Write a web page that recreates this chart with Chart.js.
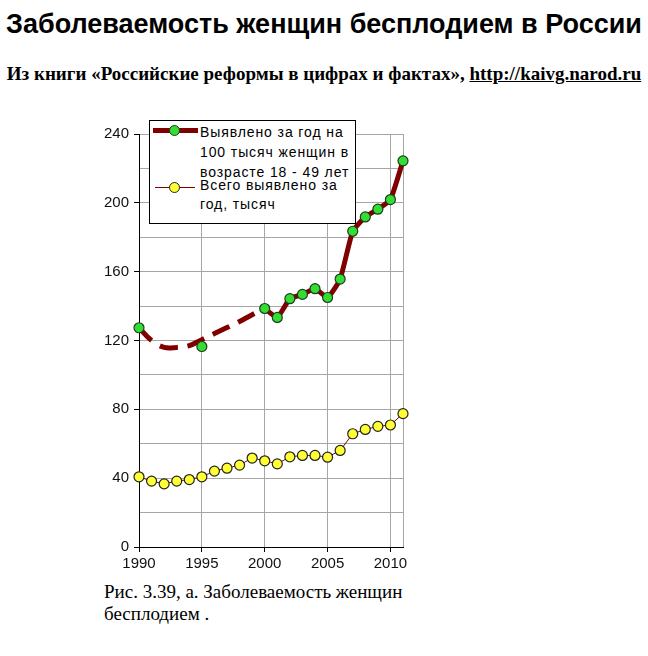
<!DOCTYPE html>
<html>
<head>
<meta charset="utf-8">
<script src="https://cdn.jsdelivr.net/npm/chart.js@4"></script>
<style>
  body { margin: 0; width: 648px; height: 656px; background: #fff; position: relative; overflow: hidden; }
  .title { position: absolute; left: 0; width: 648px; top: 9px; text-align: center; font: bold 27px "Liberation Sans", Arial, sans-serif; color: #000; }
  .subtitle { position: absolute; left: 0; width: 648px; top: 63px; text-align: center; font: bold 19px "Liberation Serif", "Times New Roman", serif; color: #000; }
  .subtitle a { color: #000; text-decoration: underline; }
  #wrap { position: absolute; left: 90px; top: 120px; width: 325px; height: 460px; }
  .legend { position: absolute; left: 149px; top: 120px; width: 205px; height: 102px; border: 1px solid #000; background: #fff; }
  .legend .txt { position: absolute; left: 50px; font: 14px "Liberation Sans", Arial, sans-serif; letter-spacing: 0.9px; line-height: 20px; color: #000; white-space: nowrap; }
  .legend .ln { position: absolute; background: #800000; }
  .legend .dot { position: absolute; width: 9px; height: 9px; border-radius: 50%; border: 1px solid #1d3d1d; }
  .caption { position: absolute; left: 104px; top: 581px; font: 19px "Liberation Serif", "Times New Roman", serif; line-height: 22px; color: #000; }
</style>
</head>
<body>
<div class="title">Заболеваемость женщин бесплодием в России</div>
<div class="subtitle">Из книги «Российские реформы в цифрах и фактах», <a>http://kaivg.narod.ru</a></div>
<div id="wrap"><canvas id="chart"></canvas></div>
<div class="legend">
  <div class="ln" style="left:3px; top:7px; width:45px; height:5px;"></div>
  <div class="dot" style="left:19px; top:4px; background:#33dd33;"></div>
  <div class="txt" style="top:1px;">Выявлено за год на<br>100 тысяч женщин в<br>возрасте 18 - 49 лет</div>
  <div class="ln" style="left:5px; top:66px; width:40px; height:1px;"></div>
  <div class="dot" style="left:19px; top:61px; background:#ffff33; border-color:#222;"></div>
  <div class="txt" style="top:55px; line-height:19px;">Всего выявлено за<br>год, тысяч</div>
</div>
<div class="caption">Рис. 3.39, а. Заболеваемость женщин<br>бесплодием .</div>

<script>
// Years on the x axis
const years = [];
for (let y = 1990; y <= 2011; y++) years.push(String(y));

// Detected per 100 thousand women aged 18-49 (known years only)
const ratePer100k = [127.4, null, null, null, null, 116.5, null, null, null, null,
  138.6, 133.4, 144.3, 146.8, 150.1, 145.0, 155.7, 183.5, 191.8, 196.3, 201.9, 224.4];

// Dashed estimate between the known years 1990-2000
const rateEstimate = [127.4, 120.0, 116.0, 116.0, 117.0, 120.5, 124.0, 127.5, 131.0, 135.0,
  138.6, null, null, null, null, null, null, null, null, null, null, null];

// Total detected per year, thousands
const totalThousands = [40.8, 38.3, 36.7, 38.3, 39.2, 40.8, 44.1, 45.8, 47.6, 51.7,
  50.1, 48.3, 52.4, 53.2, 53.2, 52.2, 56.1, 65.8, 68.3, 70.1, 70.9, 77.5];

const yTicks = [0, 40, 80, 120, 160, 200, 240];

const ctx = document.getElementById('chart').getContext('2d');
new Chart(ctx, {
  type: 'line',
  data: {
    labels: years,
    datasets: [
      {
        label: 'Выявлено за год на 100 тысяч женщин в возрасте 18 - 49 лет',
        data: ratePer100k,
        borderColor: '#800000',
        borderWidth: 5,
        tension: 0.15,
        spanGaps: false,
        pointRadius: 5,
        pointBackgroundColor: '#33dd33',
        pointBorderColor: '#1d3d1d',
        pointBorderWidth: 1.2,
        order: 0
      },
      {
        label: 'estimate',
        data: rateEstimate,
        borderColor: '#800000',
        borderWidth: 5,
        borderDash: [18, 10],
        tension: 0.4,
        pointRadius: 0,
        order: 2
      },
      {
        label: 'Всего выявлено за год, тысяч',
        data: totalThousands,
        borderColor: '#800000',
        borderWidth: 1,
        tension: 0,
        pointRadius: 5,
        pointBackgroundColor: '#ffff33',
        pointBorderColor: '#222',
        pointBorderWidth: 1.2,
        order: 1
      }
    ]
  },
  options: {
    responsive: true,
    maintainAspectRatio: false,
    animation: false,
    layout: { padding: { top: 14, right: 12, left: 0, bottom: 0 } },
    plugins: { legend: { display: false }, tooltip: { enabled: false } },
    scales: {
      x: {
        offset: false,
        afterFit: (scale) => { scale.height = 33; },
        border: { color: '#000', width: 1 },
        grid: {
          color: (c) => {
            const yr = 1990 + c.index;
            return (yr % 5 === 0 || yr === 2011) ? '#a6a6a6' : 'rgba(0,0,0,0)';
          },
          tickColor: (c) => ((1990 + c.index) % 5 === 0 ? '#000' : 'rgba(0,0,0,0)'),
          tickLength: 5
        },
        ticks: {
          autoSkip: false,
          maxRotation: 0,
          padding: 3,
          color: '#111',
          font: { family: '"Liberation Sans", Arial, sans-serif', size: 15 },
          callback: function (v) {
            const yr = Number(this.getLabelForValue(v));
            return yr % 5 === 0 ? String(yr) : '';
          }
        }
      },
      y: {
        min: 0,
        max: 240,
        afterFit: (scale) => { scale.width = 49; },
        border: { color: '#000', width: 1 },
        grid: {
          color: '#a6a6a6',
          tickColor: (c) => (c.tick && yTicks.includes(c.tick.value) ? '#000' : 'rgba(0,0,0,0)'),
          tickLength: 5
        },
        ticks: {
          stepSize: 20,
          padding: 5,
          color: '#111',
          font: { family: '"Liberation Sans", Arial, sans-serif', size: 15 },
          callback: (v) => (yTicks.includes(v) ? String(v) : '')
        }
      }
    }
  }
});
</script>
</body>
</html>
